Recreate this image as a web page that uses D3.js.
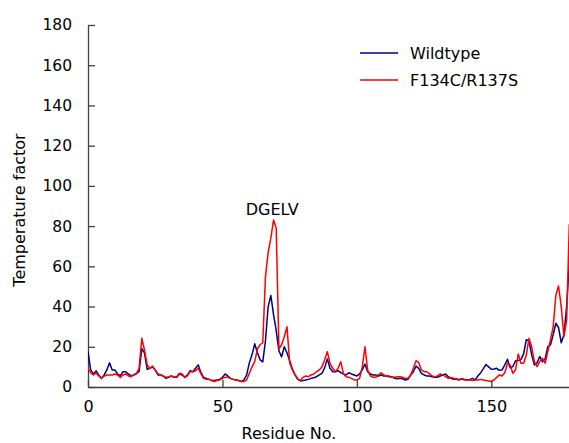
<!DOCTYPE html>
<html>
<head>
<meta charset="utf-8">
<script src="https://cdn.jsdelivr.net/npm/d3@7"></script>
<style>
  html, body { margin: 0; padding: 0; background: #fff; }
  svg { display: block; }
  text { font-family: "DejaVu Sans", Verdana, sans-serif; fill: #000; }
</style>
</head>
<body>
<script>
// ---- data ----
const residues = d3.range(0, 180);
const wildtype = [
  17.6, 8.5, 6.5, 8, 6, 4.3, 6, 8.5, 12, 8.5,
  8.5, 6.5, 5.5, 7.6, 7.6, 6.5, 5.5, 6, 6.8, 7.6,
  19, 17, 8.8, 9.3, 10, 8.5, 6, 6, 5.5, 4.3,
  4.8, 5.5, 4.8, 4.8, 6.5, 6, 4.8, 6, 8.1, 7.6,
  9.3, 11, 7.1, 4.8, 4.3, 3.8, 3.2, 3.2, 3.5, 3.8,
  4.8, 6.5, 5.5, 4.3, 3.8, 3.5, 3.2, 2.7, 3.5, 6,
  12, 16, 21.5, 17, 13.5, 12.5, 23, 40, 45.5, 36,
  28, 18, 15, 20, 17, 13, 9, 6, 3.8, 3,
  3.2, 3.5, 3.8, 4.3, 4.6, 5.1, 6, 6.8, 9.5, 14,
  9.3, 7.6, 7.6, 8.1, 7.1, 6.5, 6, 7.1, 6.5, 6,
  5.5, 6.5, 8.5, 11.4, 7.6, 6.5, 6, 6, 5.5, 6,
  5.5, 5.5, 5.1, 5.1, 4.3, 4.1, 4.3, 4.1, 3.5, 3.8,
  6, 7.6, 10.4, 9.3, 6.8, 6, 5.5, 5.5, 5.1, 4.8,
  4.8, 5.5, 6, 6.5, 5.1, 4.3, 3.8, 3.8, 3.5, 4.1,
  3.8, 3.5, 3.8, 4.3, 3.5, 5.5, 7, 9, 11.2, 10,
  8.8, 9, 9.3, 8.3, 8.5, 11, 13.8, 9.5, 10.2, 13,
  13.2, 13.6, 16.5, 23.5, 23, 16, 11, 12, 15.2, 12.5,
  14, 20, 21, 26, 31.7, 29.5, 22, 26, 40, 62
];
const mutant = [
  9.3, 7, 6, 7, 5.5, 4.3, 5.5, 6, 6, 6,
  6.5, 6, 4.8, 6, 6.5, 5.5, 5.1, 6, 6.5, 9.3,
  24.2, 18.4, 11, 9.3, 10.4, 8.5, 6.5, 6, 5.5, 4.8,
  5.1, 5.5, 4.8, 5.1, 6.8, 6.5, 4.8, 5.5, 7.6, 7.6,
  8.1, 9.3, 6.5, 4.3, 3.8, 3.8, 3.2, 2.7, 3.2, 3.5,
  4.3, 4.8, 4.8, 4.3, 3.8, 3.5, 3.2, 2.7, 2.7, 3.5,
  6.8, 10, 12.6, 19, 21, 22, 55, 67, 74, 83,
  79, 19, 21, 25, 30, 12, 8.5, 6, 4, 3.2,
  4.8, 5.5, 5.1, 6, 6.5, 7.6, 8.5, 10, 13.4, 17.6,
  11.8, 9.3, 7.6, 9.3, 12.6, 6.5, 5.1, 4.8, 4.3, 3.5,
  3.5, 4.3, 10, 20, 8.5, 5.5, 4.8, 4.8, 6, 7.1,
  6, 5.5, 5.5, 4.8, 4.8, 5.1, 5.1, 4.8, 4.3, 4.3,
  6, 9.3, 13.1, 12.1, 8.5, 7.6, 7.6, 6.5, 5.5, 5.1,
  5.5, 6.5, 6, 5.1, 4.3, 4.8, 4.3, 4.1, 3.8, 3.8,
  3.5, 3.5, 3.5, 3.2, 3.5, 3.5, 3.8, 3.5, 3.2, 3,
  2.7, 3.5, 4.8, 6, 5.5, 7.1, 11.8, 10.9, 6.8, 8.5,
  16.4, 11.8, 11.8, 15.9, 24.2, 20, 12.6, 10.1, 12.6, 14.3,
  11.8, 17.6, 23.4, 30, 45.7, 50.2, 40, 25, 33, 81
];
const seriesNames = ["Wildtype", "F134C/R137S"];
const seriesColors = ["#000080", "#ff0000"];
const xTicks = [0, 50, 100, 150];
const yTicks = [0, 20, 40, 60, 80, 100, 120, 140, 160, 180];
const annotation = { text: "DGELV", residue: 68.5 };

// ---- drawing ----
const W = 569, H = 443;
const svg = d3.select("body").append("svg").attr("width", W).attr("height", H);

const x = d3.scaleLinear().domain([0, 180]).range([88, 572]);
const y = d3.scaleLinear().domain([0, 180]).range([387, 25]);

const axisColor = "#404040";

const yAxis = svg.append("g")
  .attr("transform", `translate(${x(0)},0)`)
  .call(d3.axisLeft(y).tickValues(yTicks).tickSizeInner(-7).tickSizeOuter(0).tickPadding(16));
const xAxis = svg.append("g")
  .attr("transform", `translate(0,${y(0)})`)
  .call(d3.axisBottom(x).tickValues(xTicks).tickSizeInner(-7).tickSizeOuter(0).tickPadding(14));

[xAxis, yAxis].forEach(g => {
  g.selectAll("path.domain").attr("stroke", axisColor).attr("stroke-width", 1.3);
  g.selectAll(".tick line").attr("stroke", axisColor).attr("stroke-width", 1.3);
  g.selectAll(".tick text").attr("font-size", 15.5).attr("font-family", '"DejaVu Sans", Verdana, sans-serif').attr("fill", "#000");
});
xAxis.selectAll(".tick text").attr("font-size", 16);

const data = [wildtype, mutant];
const line = d3.line().x((d, i) => x(residues[i])).y(d => y(d));

svg.append("defs").append("clipPath").attr("id", "clip")
  .append("rect").attr("x", x(0)).attr("y", 0).attr("width", W - x(0)).attr("height", y(0));

const lines = svg.append("g").attr("clip-path", "url(#clip)");
data.forEach((vals, k) => {
  lines.append("path")
    .datum(vals)
    .attr("fill", "none")
    .attr("stroke", seriesColors[k])
    .attr("stroke-width", 1.5)
    .attr("stroke-linejoin", "round")
    .attr("d", line);
});

// annotation
svg.append("text")
  .attr("x", x(annotation.residue))
  .attr("y", 215)
  .attr("text-anchor", "middle")
  .attr("font-size", 16)
  .text(annotation.text);

// axis titles
svg.append("text")
  .attr("transform", "translate(25,210) rotate(-90)")
  .attr("text-anchor", "middle")
  .attr("font-size", 16)
  .text("Temperature factor");
svg.append("text")
  .attr("x", 289)
  .attr("y", 439)
  .attr("text-anchor", "middle")
  .attr("font-size", 16)
  .text("Residue No.");

// legend
const legend = svg.append("g");
seriesNames.forEach((name, k) => {
  const ly = 53 + k * 27;
  legend.append("line")
    .attr("x1", 360).attr("x2", 398)
    .attr("y1", ly).attr("y2", ly)
    .attr("stroke", seriesColors[k]).attr("stroke-width", 1.5);
  legend.append("text")
    .attr("x", 410).attr("y", ly + 6)
    .attr("font-size", 16)
    .text(name);
});
</script>
</body>
</html>
